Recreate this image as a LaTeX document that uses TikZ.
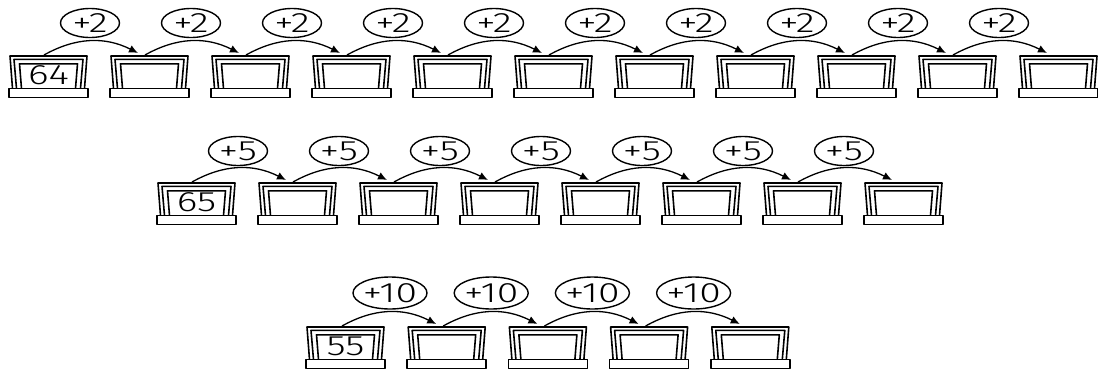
\documentclass[tikz,border=0pt]{standalone}
\usepackage{fontspec}
\setmainfont{Fira Sans Light}
\usetikzlibrary{arrows.meta,shapes.geometric}
\tikzset{
  lap/.style={line width=1.6pt, line join=round},
  badge/.style={draw, ellipse, line width=1.4pt, minimum width=59pt, minimum height=29pt, inner sep=0pt},
  badgewide/.style={badge, minimum width=74pt, minimum height=32pt},
  badgetext/.style={inner sep=0pt, font=\fontsize{28}{28}\selectfont},
  jump/.style={line width=1.3pt, -{Latex[length=9pt,width=8pt]}, bend left=28},
  num/.style={inner sep=0pt, font=\fontsize{28}{28}\selectfont},
  pics/laptop/.style={code={
    \draw[lap] (3.5,32.5) -- (1,0) -- (78,0) -- (75.5,32.5);
    \draw[lap] (7.5,32.5) -- (5,3.4) -- (74,3.4) -- (71.5,32.5);
    \draw[lap] (12.5,32.5) -- (10.5,7.8) -- (68.5,7.8) -- (66.5,32.5);
    \draw[lap, fill=white] (0,32.5) rectangle (79,41.5);
  }}
}
\begin{document}
\begin{tikzpicture}[x=1pt,y=-1pt]
\useasboundingbox (0,0) rectangle (1098,370);
% row 1
\foreach \i in {1,...,11} {
  \coordinate (r1-\i) at ({9+101*(\i-1)},56);
  \pic at (r1-\i) {laptop};
}
\foreach \i [evaluate=\i as \j using int(\i+1)] in {1,...,10} {
  \draw[jump] ([shift={(35,-1)}]r1-\i) to ([shift={(28,-3)}]r1-\j);
  \node[badge] (b1-\i) at ([shift={(81,-33)}]r1-\i) {};
  \node[badgetext] at (b1-\i) {\scalebox{1.4}[1]{+2}};
}
\node[num] (n1) at ([shift={(39.5,19)}]r1-1) {\scalebox{1.4}[1]{64}};
% row 2
\foreach \i in {1,...,8} {
  \coordinate (r2-\i) at ({157+101*(\i-1)},183);
  \pic at (r2-\i) {laptop};
}
\foreach \i [evaluate=\i as \j using int(\i+1)] in {1,...,7} {
  \draw[jump] ([shift={(35,-1)}]r2-\i) to ([shift={(28,-3)}]r2-\j);
  \node[badge] (b2-\i) at ([shift={(81,-32)}]r2-\i) {};
  \node[badgetext] at (b2-\i) {\scalebox{1.4}[1]{+5}};
}
\node[num] (n2) at ([shift={(39.5,19)}]r2-1) {\scalebox{1.4}[1]{65}};
% row 3
\foreach \i in {1,...,5} {
  \coordinate (r3-\i) at ({306+101.2*(\i-1)},327);
  \pic at (r3-\i) {laptop};
}
\foreach \i [evaluate=\i as \j using int(\i+1)] in {1,...,4} {
  \draw[jump] ([shift={(36,-1)}]r3-\i) to ([shift={(29,-3)}]r3-\j);
  \node[badgewide] (b3-\i) at ([shift={(84,-34)}]r3-\i) {};
  \node[badgetext] at (b3-\i) {\scalebox{1.4}[1]{+10}};
}
\node[num] (n3) at ([shift={(39.5,19)}]r3-1) {\scalebox{1.4}[1]{55}};
\end{tikzpicture}
\end{document}
